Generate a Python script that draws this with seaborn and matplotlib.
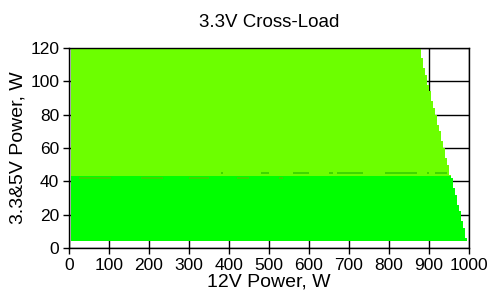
import numpy as np
import pandas as pd
import matplotlib
matplotlib.use("Agg")
import matplotlib.pyplot as plt
import seaborn as sns
from matplotlib.colors import ListedColormap

# ---------------- data ----------------
title = "3.3V Cross-Load"
x_label = "12V Power, W"
y_label = "3.3&5V Power, W"
x_ticks = [0, 100, 200, 300, 400, 500, 600, 700, 800, 900, 1000]
y_ticks = [0, 20, 40, 60, 80, 100, 120]

# 12V load grid (W)
p12_min = 5
p12_step = 5

# 3.3&5V load rows (bottom of each row, W) and the highest 12V load reached in each row
row_bottoms = [4, 6, 8, 10, 12, 14, 16, 18, 20, 22, 24, 26, 28, 30, 32, 34, 36, 38,
               40, 42, 44, 46, 48, 50, 52, 54, 56, 58, 60, 62, 64, 66, 68, 70, 72,
               74, 76, 78, 80, 82, 84, 86, 88, 90, 92, 94, 96, 98, 100, 102, 104,
               106, 108, 110, 112, 114, 116, 118]
row_top = 120
row_max_12v = [995, 990, 990, 990, 985, 985, 980, 980, 980, 975, 975, 970, 970, 970,
               965, 965, 960, 960, 960, 955, 950, 950, 950, 945, 945, 940, 940, 940,
               935, 935, 930, 930, 930, 925, 925, 920, 920, 920, 915, 915, 910, 910,
               905, 905, 905, 900, 900, 895, 895, 895, 890, 890, 885, 885, 885, 880,
               880, 880]

# 3.3&5V load where the deviation class changes
class_boundary = 43.5

# small patches of the intermediate class near the boundary: (y0, y1, x0, x1)
mixed_patches = [
    (41.5, 42.7, 25, 105), (41.5, 42.7, 180, 235), (41.5, 42.7, 300, 350),
    (41.5, 42.7, 420, 450), (41.5, 42.7, 525, 535),
    (44.5, 45.7, 380, 385), (44.5, 45.7, 480, 500), (44.5, 45.7, 560, 600),
    (44.5, 45.7, 650, 660), (44.5, 45.7, 670, 735), (44.5, 45.7, 790, 870),
    (44.5, 45.7, 895, 900), (44.5, 45.7, 915, 945),
]

class_colors = ["#00FF00", "#3CD800", "#6CFF00"]  # low, mixed, high

# ---------------- build cell table ----------------
y_edges = sorted(set(row_bottoms + [row_top, class_boundary]
                     + [p[0] for p in mixed_patches] + [p[1] for p in mixed_patches]))
x_edges = np.arange(p12_min, 1000 + p12_step, p12_step)

recs = []
for ya, yb in zip(y_edges[:-1], y_edges[1:]):
    yc = (ya + yb) / 2
    idx = max(i for i, b in enumerate(row_bottoms) if b <= ya)
    xmax = row_max_12v[idx]
    for xa, xb in zip(x_edges[:-1], x_edges[1:]):
        if xb > xmax:
            break
        xc = (xa + xb) / 2
        cat = 1 if yc < class_boundary else 3
        for (y0, y1, x0, x1) in mixed_patches:
            if y0 <= yc < y1 and x0 <= xc < x1:
                cat = 2
        recs.append((xc, yc, cat))
df = pd.DataFrame(recs, columns=["p12", "p335", "cls"])

# ---------------- plot ----------------
sns.set_style("white")
plt.rcParams["font.family"] = ["Liberation Sans", "DejaVu Sans"]
plt.rcParams["font.size"] = 12.5
for k in ["text.color", "axes.labelcolor", "xtick.color", "ytick.color"]:
    plt.rcParams[k] = "black"

fig = plt.figure(figsize=(5.03, 3.06), dpi=100)
ax = fig.add_axes([69 / 503, 1 - 248 / 306, 400 / 503, 200 / 306])

cmap = ListedColormap(class_colors)
sns.histplot(data=df, x="p12", y="p335", weights="cls",
             bins=[x_edges, np.array(y_edges)], cmap=cmap, ax=ax,
             vmin=0.5, vmax=3.5)
for coll in ax.collections:
    coll.set_cmap(cmap)
    coll.set_clim(0.5, 3.5)

ax.set_xlim(0, 1000)
ax.set_ylim(0, 120)
ax.set_xticks(x_ticks)
ax.set_yticks(y_ticks)
ax.set_xticklabels([str(v) for v in x_ticks])
ax.set_yticklabels([str(v) for v in y_ticks])
ax.grid(True, color="black", linewidth=1)
ax.set_axisbelow(True)
ax.tick_params(direction="out", length=4, width=1, colors="black",
               bottom=True, left=True, top=False, right=False,
               labelsize=12.5, pad=3)
for s in ax.spines.values():
    s.set_visible(True)
    s.set_color("black")
    s.set_linewidth(1)

ax.set_title(title, fontsize=13.5, pad=15, color="black")
ax.set_xlabel(x_label, fontsize=14, labelpad=0.5)
ax.set_ylabel(y_label, fontsize=14, labelpad=3)

fig.savefig("out.png", dpi=100)
